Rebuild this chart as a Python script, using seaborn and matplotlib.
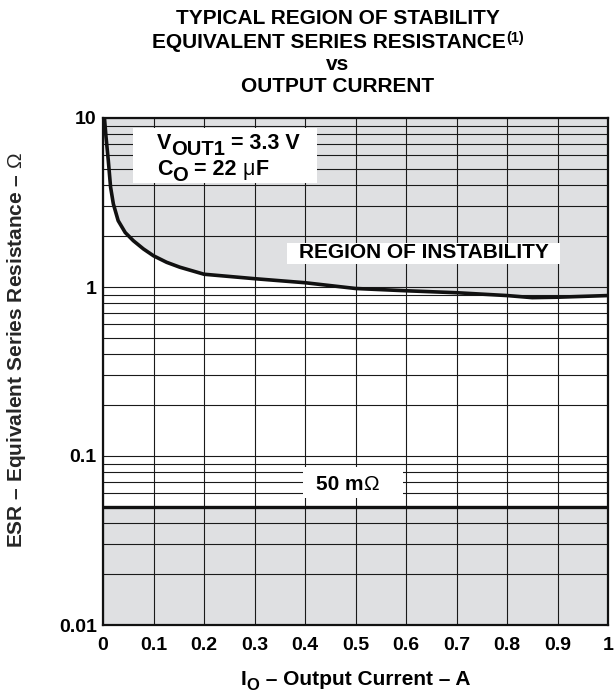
import matplotlib
matplotlib.use("Agg")
import numpy as np
import matplotlib.pyplot as plt
import seaborn as sns
from matplotlib import transforms
from matplotlib.patches import Rectangle
from matplotlib.ticker import LogLocator, NullFormatter

# ESR stability boundary vs output current
current = [0.0, 0.003, 0.006, 0.0105, 0.015, 0.0205, 0.03, 0.044, 0.06, 0.08,
           0.1, 0.126, 0.152, 0.2, 0.3, 0.4, 0.5, 0.6, 0.7, 0.8, 0.85, 0.9, 0.95, 1.0]
esr_max = [10.0, 9.9, 7.7, 5.6, 3.9, 3.1, 2.47, 2.1, 1.88, 1.68,
           1.53, 1.40, 1.31, 1.19, 1.12, 1.06, 0.98, 0.95, 0.925, 0.89, 0.865, 0.87, 0.88, 0.89]
esr_min = 0.05
esr_top = 10.0

x_ticks = [0, 0.1, 0.2, 0.3, 0.4, 0.5, 0.6, 0.7, 0.8, 0.9, 1.0]
x_labels = ["0", "0.1", "0.2", "0.3", "0.4", "0.5", "0.6", "0.7", "0.8", "0.9", "1"]
y_ticks = [0.01, 0.1, 1, 10]
y_labels = ["0.01", "0.1", "1", "10"]

sns.set_theme(style="white")
plt.rcParams["font.family"] = ["Liberation Sans", "DejaVu Sans"]
plt.rcParams["mathtext.fontset"] = "custom"
plt.rcParams["mathtext.rm"] = "Liberation Sans"
plt.rcParams["mathtext.it"] = "Liberation Sans"
plt.rcParams["mathtext.bf"] = "Liberation Sans:bold"

W, H = 614, 694
fig = plt.figure(figsize=(W / 100, H / 100), dpi=100)
fig.patch.set_facecolor("white")
ax = fig.add_axes([103 / W, 1 - 625 / H, 505 / W, 507 / H])

GRAY = "#dfe0e2"
INK = "#111111"

# shaded regions of instability
ax.fill_between(current, esr_max, esr_top, color=GRAY, lw=0, zorder=0.2)
ax.fill_between([x_ticks[0], x_ticks[-1]], y_ticks[0], esr_min, color=GRAY, lw=0, zorder=0.2)

sns.lineplot(x=current, y=esr_max, ax=ax, color=INK, lw=2.6, zorder=3)
ax.axhline(esr_min, color=INK, lw=2.4, zorder=3)

ax.set_yscale("log")
ax.set_xlim(x_ticks[0], x_ticks[-1])
ax.set_ylim(y_ticks[0], y_ticks[-1])
ax.set_xticks(x_ticks)
ax.set_xticklabels(x_labels, fontsize=14, fontweight="bold")
ax.set_yticks(y_ticks)
ax.set_yticklabels(y_labels, fontsize=14, fontweight="bold")
ax.yaxis.set_minor_locator(LogLocator(base=10, subs=range(2, 10)))
ax.yaxis.set_minor_formatter(NullFormatter())
ax.grid(True, which="both", color="#1a1a1a", lw=0.8)
ax.set_axisbelow(True)
ax.tick_params(which="both", length=0, colors="black")
ax.tick_params(axis="x", pad=8.5)
ax.tick_params(axis="y", pad=4.5)
for sp in ax.spines.values():
    sp.set_visible(True)
    sp.set_color(INK)
    sp.set_linewidth(1.6)

renderer = fig.canvas.get_renderer()


def run_width(s, size, weight):
    a = fig.text(0, 0, "x" + s + "x", fontsize=size, fontweight=weight)
    b = fig.text(0, 0, "xx", fontsize=size, fontweight=weight)
    w = a.get_window_extent(renderer).width - b.get_window_extent(renderer).width
    a.remove()
    b.remove()
    return w * 72 / fig.dpi


def rich_line(x, y, runs, transform, ha="left", zorder=5):
    widths = [run_width(s, size, wt) for s, size, dy, wt in runs]
    total = sum(widths)
    off = {"left": 0.0, "center": -total / 2, "right": -total}[ha]
    for (s, size, dy, wt), w in zip(runs, widths):
        tr = transforms.offset_copy(transform, fig=fig, x=off, y=dy, units="points")
        fig.text(x, y, s, transform=tr, fontsize=size, fontweight=wt,
                 ha="left", va="baseline", color="black", zorder=zorder)
        off += w


# title
tx = 338 / W
rich_line(tx, 1 - 24 / H, [("TYPICAL REGION OF STABILITY", 15, 0, "bold")], fig.transFigure, "center")
rich_line(tx, 1 - 48 / H, [("EQUIVALENT SERIES RESISTANCE", 15, 0, "bold"),
                            ("(1)", 10.5, 4.6, "bold")], fig.transFigure, "center")
rich_line(tx, 1 - 70 / H, [("vs", 15, 0, "bold")], fig.transFigure, "center")
rich_line(tx, 1 - 92 / H, [("OUTPUT CURRENT", 15, 0, "bold")], fig.transFigure, "center")

# axis labels
rich_line(355.5 / W, 1 - 685 / H, [("I", 15, 0, "bold"), ("O", 12, -3.6, "bold"),
                                    (" \u2013 Output Current \u2013 A", 15, 0, "bold")],
          fig.transFigure, "center")
fig.text(17 / W, 1 - 350 / H, "ESR \u2013 Equivalent Series Resistance \u2013 $\\Omega$",
         rotation=90, ha="center", va="center", fontsize=15, fontweight="bold")

# annotation boxes
for (x0, y0, w, h) in [(0.059, 0.872, 0.365, 0.108),
                       (0.364, 0.712, 0.541, 0.041),
                       (0.396, 0.2505, 0.198, 0.061)]:
    ax.add_patch(Rectangle((x0, y0), w, h, transform=ax.transAxes,
                           facecolor="white", edgecolor="none", zorder=4))

rich_line(0.107, 0.9389, [("V", 15.5, 0, "bold"), ("OUT1", 14.5, -4.3, "bold"),
                          (" = 3.3 V", 15.5, 0, "bold")], ax.transAxes)
rich_line(0.107, 0.8876, [("C", 15.5, 0, "bold"), ("O", 14.5, -4.3, "bold"),
                          (" = 22 ", 15.5, 0, "bold"), ("\u03bc", 15.5, 0, "normal"),
                          ("F", 15.5, 0, "bold")], ax.transAxes)
rich_line(0.6356, 0.7239, [("REGION OF INSTABILITY", 15, 0, "bold")], ax.transAxes, "center")
rich_line(0.4218, 0.266, [("50 m", 15, 0, "bold"), ("\u03a9", 15, 0, "normal")], ax.transAxes)

fig.savefig("out.png", dpi=100, facecolor="white")
